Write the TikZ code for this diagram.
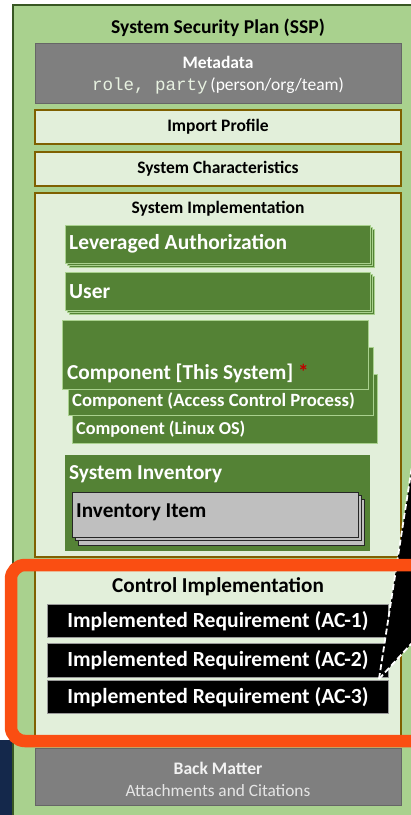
\documentclass[tikz,border=0pt]{standalone}
\usepackage{fontspec}
\setmainfont{Carlito}
\setmonofont{Liberation Mono}
\usetikzlibrary{positioning}

\definecolor{sspgreen}{HTML}{A9D18E}
\definecolor{sspdark}{HTML}{385723}
\definecolor{paleg}{HTML}{E2EFDA}
\definecolor{olive}{HTML}{7F6000}
\definecolor{leafg}{HTML}{548235}
\definecolor{midgray}{HTML}{7F7F7F}
\definecolor{rimgray}{HTML}{666666}
\definecolor{ltgray}{HTML}{BFBFBF}
\definecolor{hiorange}{HTML}{FA4E12}
\definecolor{navy}{HTML}{14284B}
\definecolor{starred}{HTML}{C00000}

\tikzset{
  section/.style={draw=olive, line width=2pt, fill=paleg},
  metabox/.style={draw=rimgray, line width=1pt, fill=midgray},
  leafbox/.style={draw=sspgreen, line width=0.8pt, fill=leafg},
  itembox/.style={draw=black!85, line width=0.8pt, fill=ltgray},
  reqbox/.style={draw=black!40, line width=0.6pt, fill=black},
  reqtext/.style={text=white, font=\bfseries\fontsize{21.6}{24}\selectfont},
  leaftext/.style={anchor=west, text=white, inner sep=0pt},
  calloutedge/.style={white, line width=1.8pt, dash pattern=on 6pt off 3pt}
}

\begin{document}
\begin{tikzpicture}[x=1pt, y=-1pt]
\clip (0,0) rectangle (411,815);

% background and outer plan
\fill[navy] (0,740) rectangle (14,815);
\draw[sspdark, line width=2.5pt, fill=sspgreen] (13,5) rectangle (440,840);
\node[font=\bfseries\fontsize{19.6}{22}\selectfont] (ssp) at (218,28) {System Security Plan (SSP)};

% metadata
\draw[metabox] (35,43) rectangle (401,103);
\node[text=white, font=\bfseries\fontsize{17.5}{20}\selectfont] (meta) at (218,62) {Metadata};
\node[text=white, font=\fontsize{17.5}{20}\selectfont] (party) at (218,86) {\textcolor{paleg!80!white}{\ttfamily role, party}\,(person/org/team)};

% import profile, characteristics
\draw[section] (35,110) rectangle (401,144);
\node[font=\bfseries\fontsize{17.5}{20}\selectfont] (import) at (218,127) {Import Profile};
\draw[section] (35,152) rectangle (401,186);
\node[font=\bfseries\fontsize{17.5}{20}\selectfont] (chars) at (218,169) {System Characteristics};

% system implementation
\draw[section] (35,193) rectangle (401,557);
\node[font=\bfseries\fontsize{17.5}{20}\selectfont] (impl) at (218,209) {System Implementation};

\draw[leafbox] (69,229) rectangle (374,267);
\draw[leafbox] (67,227) rectangle (372,265);
\draw[leafbox] (65,225) rectangle (370,263);
\node[leaftext, font=\bfseries\fontsize{21.5}{24}\selectfont] (leveraged) at (69,244) {Leveraged Authorization};

\draw[leafbox] (69,276) rectangle (374,314);
\draw[leafbox] (67,274) rectangle (372,312);
\draw[leafbox] (65,272) rectangle (370,310);
\node[leaftext, font=\bfseries\fontsize{21.5}{24}\selectfont] (user) at (69,292) {User};

\draw[leafbox] (72,374) rectangle (377,443);
\draw[leafbox] (68,347) rectangle (373,415);
\draw[leafbox] (62,320) rectangle (368,389);
\node[leaftext, font=\bfseries\fontsize{21.3}{24}\selectfont] (thissys) at (67,373) {Component [This System] \textcolor{starred}{*}};
\node[leaftext, font=\bfseries\fontsize{18.7}{22}\selectfont] (access) at (72,401) {Component (Access Control Process)};
\node[leaftext, font=\bfseries\fontsize{18.2}{22}\selectfont] (linux) at (76,429) {Component (Linux OS)};

\draw[leafbox, draw=none] (65,455) rectangle (370,551);
\node[leaftext, font=\bfseries\fontsize{21.3}{24}\selectfont] (inventory) at (69,474) {System Inventory};
\draw[itembox] (78,499) rectangle (364,545);
\draw[itembox] (75,495) rectangle (361,540);
\draw[itembox] (72,492) rectangle (358,537);
\node[leaftext, text=black, font=\bfseries\fontsize{21.2}{24}\selectfont] (item) at (76,512) {Inventory Item};

% control implementation
\draw[section] (35,560) rectangle (401,738);
\node[font=\bfseries\fontsize{21.2}{24}\selectfont] (control) at (218,587) {Control Implementation};
\draw[reqbox] (47,604) rectangle (388,637);
\node[reqtext] (ac1) at (218,621) {Implemented Requirement (AC-1)};
\draw[reqbox] (47,643) rectangle (388,677);
\node[reqtext] (ac2) at (218,660) {Implemented Requirement (AC-2)};
\draw[reqbox] (47,680) rectangle (388,713);
\node[reqtext] (ac3) at (218,697) {Implemented Requirement (AC-3)};

% callout from the right
\coordinate (tip) at (379,679);
\coordinate (upper) at (412,466);
\coordinate (lower) at (412,643);
\fill[black] (tip) -- (upper) -- (lower) -- cycle;
\draw[calloutedge] (tip) -- (upper);
\draw[calloutedge] (tip) -- (lower);

% highlight
\draw[hiorange, line width=12.5pt, rounded corners=14pt] (11,565) rectangle (440,741);

% back matter
\draw[metabox] (35,748) rectangle (401,805);
\node[text=white!95!black, font=\bfseries\fontsize{17.6}{20}\selectfont] (back) at (218,768) {Back Matter};
\node[text=white!90!black, font=\fontsize{17.3}{20}\selectfont] (attach) at (218,791) {Attachments and Citations};

\end{tikzpicture}
\end{document}
